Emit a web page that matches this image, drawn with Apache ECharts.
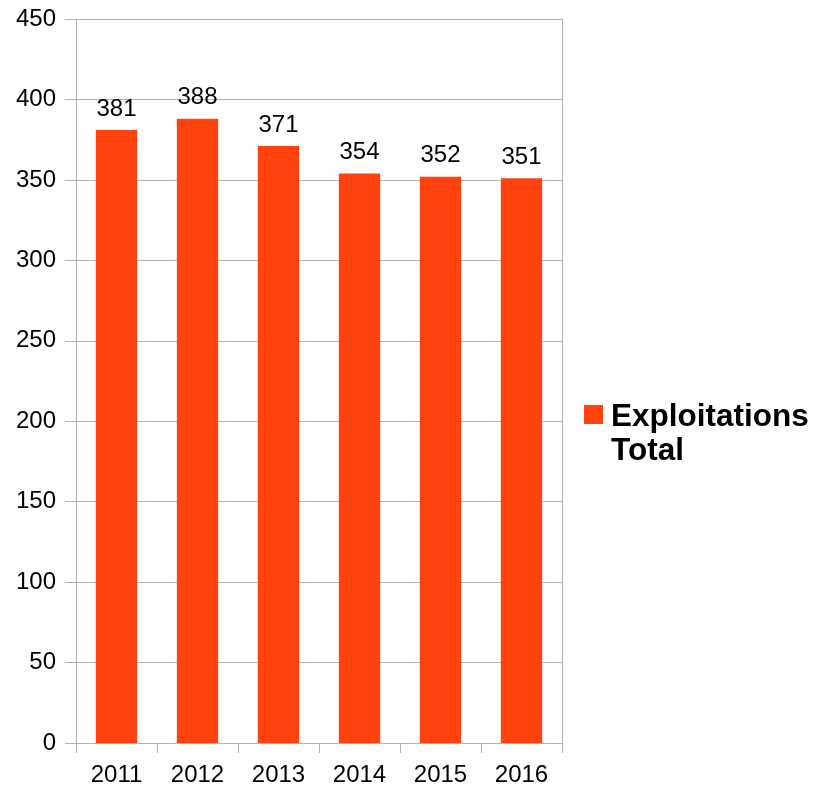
<!DOCTYPE html>
<html><head><meta charset="utf-8">
<script src="https://cdn.jsdelivr.net/npm/echarts@6/dist/echarts.min.js"></script>
<style>html,body{margin:0;padding:0;background:#fff}#c{width:813px;height:790px}</style>
</head><body><div id="c"></div>
<script>
const categories = ['2011','2012','2013','2014','2015','2016'];
const seriesName = 'Exploitations Total';
const values = [381, 388, 371, 354, 352, 351];
const yTicks = {min: 0, max: 450, interval: 50};

const chart = echarts.init(document.getElementById('c'), null, {renderer: 'canvas'});
const font = '"Liberation Sans", Arial, sans-serif';
const gray = '#b3b3b3';
chart.setOption({
  animation: false,
  textStyle: {fontFamily: font},
  grid: {left: 76, right: 251, top: 19, bottom: 47, containLabel: false},
  xAxis: {
    type: 'category', data: categories,
    axisLine: {show: true, lineStyle: {color: gray}},
    axisTick: {show: true, length: 10, lineStyle: {color: gray}},
    axisLabel: {fontSize: 24, color: '#000', margin: 20, fontFamily: font},
    splitLine: {show: false}
  },
  yAxis: [{
    type: 'value', min: yTicks.min, max: yTicks.max, interval: yTicks.interval,
    axisLine: {show: true, lineStyle: {color: gray}},
    axisTick: {show: true, length: 11, lineStyle: {color: gray}},
    axisLabel: {fontSize: 24, color: '#000', margin: 20, fontFamily: font},
    splitLine: {show: true, lineStyle: {color: gray}}
  }, {
    type: 'value', position: 'right', min: yTicks.min, max: yTicks.max, interval: yTicks.interval,
    axisLine: {show: true, lineStyle: {color: gray}},
    axisTick: {show: false}, axisLabel: {show: false}, splitLine: {show: false}
  }],
  legend: {show: false},
  series: [{
    name: seriesName, type: 'bar', data: values, barWidth: '51%',
    itemStyle: {color: '#ff420e'},
    label: {show: true, position: 'top', distance: 9, fontSize: 24, color: '#000', fontFamily: font}
  }],
  graphic: [
    {type: 'rect', shape: {x: 584, y: 405, width: 19, height: 19}, style: {fill: '#ff420e'}},
    {type: 'text', x: 611, y: 400, style: {text: 'Exploitations\nTotal', font: 'bold 31.5px ' + font, fill: '#000', lineHeight: 34}}
  ]
});
</script></body></html>
